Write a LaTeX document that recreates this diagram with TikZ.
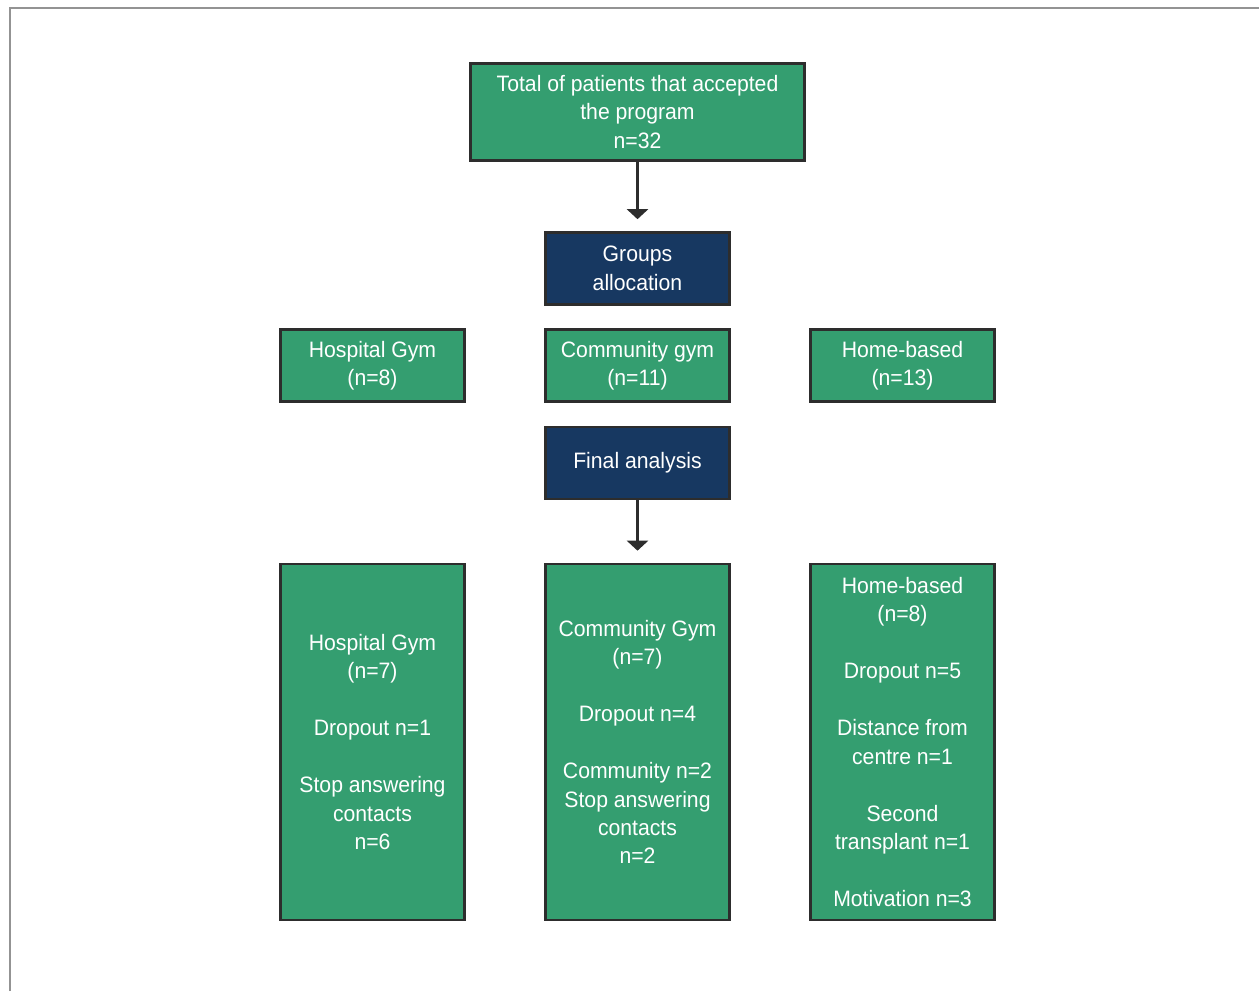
\documentclass[tikz,border=0pt]{standalone}
\usepackage{fontspec}
\setmainfont{Liberation Sans}[FakeStretch=0.95]
\usetikzlibrary{arrows.meta, positioning}
\definecolor{boxgreen}{RGB}{52,158,112}
\definecolor{boxnavy}{RGB}{23,56,97}
\definecolor{edge}{RGB}{45,45,45}

\begin{document}
\begin{tikzpicture}[g/.style={draw=edge, line width=1.5pt, fill=boxgreen, text=white, align=center, minimum width=3.68cm, minimum height=1.44cm, inner sep=0pt},d/.style={g, fill=boxnavy},t/.style={g, minimum height=7.12cm},a/.style={-{Triangle[width=0.42cm, length=0.2cm]}, line width=1.6pt, draw=edge, shorten >=0.24cm}, font=\fontsize{12.7}{16.2}\selectfont]
	\useasboundingbox (0,0) rectangle (25.18,-19.82);
	\draw[line width=1.6pt, gray!85] (0.2,-19.82) -- (0.2,-0.16) -- (25.18,-0.16);
	% top of the chart
	\node[g, minimum width=6.68cm, minimum height=1.94cm] (total) at (12.75,-2.24) {Total of patients that accepted\\the program\\n=32};
	\node[d] (alloc) at (12.75,-5.37) {Groups\\allocation};
	% the three groups
	\node[g] (hosp) at (7.45,-7.31) {Hospital Gym\\(n=8)};
	\node[g] (comm) at (12.75,-7.31) {Community gym\\(n=11)};
	\node[g] (home) at (18.05,-7.31) {Home-based\\(n=13)};
	\node[d] (final) at (12.75,-9.26) {Final analysis};
	% final numbers
	\node[t] (hospend) at (7.45,-14.84) {Hospital Gym\\(n=7)\\[\baselineskip]Dropout n=1\\[\baselineskip]Stop answering\\contacts\\n=6};
	\node[t] (commend) at (12.75,-14.84) {Community Gym\\(n=7)\\[\baselineskip]Dropout n=4\\[\baselineskip]Community n=2\\Stop answering\\contacts\\n=2};
	\node[t] (homeend) at (18.05,-14.84) {Home-based\\(n=8)\\[\baselineskip]Dropout n=5\\[\baselineskip]Distance from\\centre n=1\\[\baselineskip]Second\\transplant n=1\\[\baselineskip]Motivation n=3};
	\draw[a] (total) -- (alloc);
	\draw[a] (final) -- (commend);
\end{tikzpicture}
\end{document}
